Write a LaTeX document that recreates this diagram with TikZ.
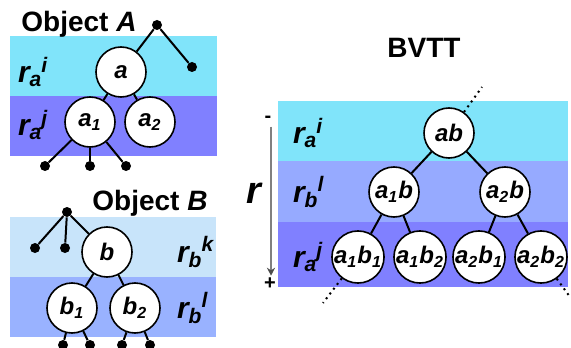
\documentclass[tikz,border=0pt]{standalone}
\usepackage{fontspec}
\setmainfont{Liberation Sans}
\usepackage{tikz}
\usetikzlibrary{arrows.meta, positioning}
\definecolor{bandcyan}{RGB}{128,228,250}
\definecolor{bandpurple}{RGB}{128,128,255}
\definecolor{bandpale}{RGB}{200,228,250}
\definecolor{bandblue}{RGB}{153,178,255}
\definecolor{bandlilac}{RGB}{150,170,255}
\tikzset{
  % Tree styles
  bv/.style={circle, draw=black, line width=0.8pt, fill=white, minimum size=25pt, inner sep=0pt, font=\fontsize{12}{12}\selectfont\bfseries\itshape},
  leaf/.style={circle, fill=black, inner sep=0pt, minimum size=5pt},
  link/.style={line width=1pt},
  dotlink/.style={line width=1pt, dotted},
  % Labels
  title/.style={font=\fontsize{14}{14}\selectfont\bfseries},
  level/.style={anchor=west, font=\fontsize{15}{15}\selectfont\bfseries\itshape},
  sign/.style={inner sep=1pt, font=\fontsize{10}{10}\selectfont\bfseries},
}
\newcommand{\rlab}[2]{r\textsubscript{#1}\kern-0.5pt\textsuperscript{#2}}

\begin{document}
\begin{tikzpicture}[x=0.5pt, y=-0.5pt]
    \useasboundingbox (0,0) rectangle (571,347);
    % Object A: two levels
    \fill[bandcyan] (10,36) rectangle (217,96);
    \fill[bandpurple] (10,96) rectangle (217,156);
    \node[level] (rAi) at (11,72) {\rlab{a}{i}};
    \node[level] (rAj) at (11,125) {\rlab{a}{j}};
    \node[title] (titleA) at (79,24) {Object \textit{A}};
    \node[leaf] (topA) at (157,25) {};
    \node[leaf] (sideA) at (192,67) {};
    \node[bv] (a) at (121,72) {a};
    \node[bv] (a1) at (90,122) {a\textsubscript{1}};
    \node[bv] (a2) at (150,122) {a\textsubscript{2}};
    \draw[link] (topA) -- (a) (topA) -- (sideA) (a) -- (a1) (a) -- (a2);
    \foreach \n/\x in {1/45, 2/90, 3/126} {
      \node[leaf] (a1c\n) at (\x,166) {};
      \draw[link] (a1) -- (a1c\n);
    }
    % Object B: two levels
    \fill[bandpale] (10,217) rectangle (216,277);
    \fill[bandblue] (10,277) rectangle (216,337);
    \node[level] (rBk) at (170,252) {\rlab{b}{k}};
    \node[level] (rBl) at (170,308) {\rlab{b}{l}};
    \node[title] (titleB) at (150,203) {Object \textit{B}};
    \node[leaf] (topB) at (67,212) {};
    \node[bv] (b) at (107,252) {b};
    \node[bv] (b1) at (72,308) {b\textsubscript{1}};
    \node[bv] (b2) at (135,308) {b\textsubscript{2}};
    \draw[link] (topB) -- (b) (b) -- (b1) (b) -- (b2);
    \foreach \n/\x in {1/35, 2/65} {
      \node[leaf] (sideB\n) at (\x,248) {};
      \draw[link] (topB) -- (sideB\n);
    }
    \foreach \p/\n/\x in {b1/1/63, b1/2/90, b2/1/122, b2/2/150} {
      \node[leaf] (\p c\n) at (\x,345) {};
      \draw[link] (\p) -- (\p c\n);
    }
    % BVTT: three levels
    \node[title] (titleT) at (424,48) {BVTT};
    \fill[bandcyan] (278,101) rectangle (568,161);
    \fill[bandlilac] (278,161) rectangle (568,222);
    \fill[bandpurple] (278,222) rectangle (568,287);
    \node[level] (rTi) at (286,133) {\rlab{a}{i}};
    \node[level] (rTl) at (286,192) {\rlab{b}{l}};
    \node[level] (rTj) at (286,257) {\rlab{a}{j}};
    \node[bv] (ab) at (449,133) {ab};
    \node[bv] (a1b) at (394,192) {a\textsubscript{1}b};
    \node[bv] (a2b) at (505,192) {a\textsubscript{2}b};
    \node[bv] (a1b1) at (358,257) {a\textsubscript{1}b\textsubscript{1}};
    \node[bv] (a1b2) at (420,257) {a\textsubscript{1}b\textsubscript{2}};
    \node[bv] (a2b1) at (479,257) {a\textsubscript{2}b\textsubscript{1}};
    \node[bv] (a2b2) at (541,257) {a\textsubscript{2}b\textsubscript{2}};
    \draw[link] (ab) -- (a1b) (ab) -- (a2b);
    \foreach \i in {1,2} {
      \draw[link] (a\i b) -- (a\i b1) (a\i b) -- (a\i b2);
    }
    % continuation of the tree
    \coordinate (upT) at (482,87);
    \coordinate (downL) at (323,303);
    \coordinate (downR) at (570,297);
    \draw[dotlink] (ab) -- (upT) (a1b1) -- (downL) (a2b2) -- (downR);
    % Order of r
    \node[sign] (minus) at (268,119) {-};
    \node[sign] (plus) at (270,284) {+};
    \node[level, anchor=center, font=\fontsize{19}{19}\selectfont\bfseries\itshape] (rT) at (254,193) {r};
    \draw[gray, line width=0.8pt, -{Stealth[length=4pt, width=4pt, black!70]}] (minus.south -| 271,0) ++(0,2) -- (plus.north -| 271,0);
\end{tikzpicture}
\end{document}
